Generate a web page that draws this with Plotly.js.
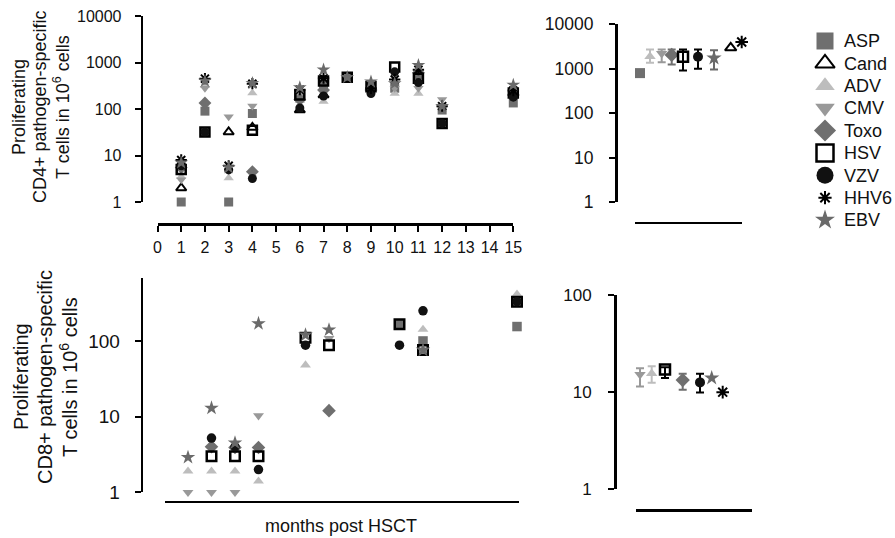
<!DOCTYPE html>
<html>
<head>
<meta charset="utf-8">
<script src="https://cdn.plot.ly/plotly-3.0.1.min.js"></script>
<style>html,body{margin:0;padding:0;background:#fff;}#chart{width:895px;height:538px;}</style>
</head>
<body>
<div id="chart"></div>
<script>
// ---------- DATA ----------
const seriesNames = ['ASP','Cand','ADV','CMV','Toxo','HSV','VZV','HHV6','EBV'];

// CD4+ time course (months post HSCT)
const monthsCD4 = [1, 2, 3, 4, 6, 7, 8, 9, 10, 11, 12, 15];
const cd4ASP  = [1, 90, 1, 80, 180, 330, 480, 330, 280, 550, 95, 135];
const cd4Cand = [2, null, 32, 40, 95, 200, null, null, null, null, null, null];
const cd4ADV  = [3.5, 320, 3.3, 220, 150, 145, null, null, 215, 215, null, null];
const cd4CMV  = [3, 280, 68, 116, 200, 300, null, 280, 280, 280, 160, 240];
const cd4Toxo = [5.5, 135, null, 4.5, 160, 255, null, 255, null, 600, null, 200];
const cd4HSV  = [5, 32, null, 35, 200, 400, 480, 300, 800, 460, 49, 220];
const cd4VZV  = [6, 32, 4.9, 3.2, 105, 190, null, 215, 630, 370, 49, 180];
const cd4HHV6 = [8, 450, 6, 350, 260, 460, null, 280, 430, 700, 115, 250];
const cd4EBV  = [7, 400, 5.5, 360, 290, 700, 480, 385, 355, 870, 115, 330];

// CD8+ time course
const monthsCD8 = [1, 2, 3, 4, 6, 7, 10, 11, 15];
const cd8ASP  = [null, null, null, null, null, null, 166, 100, 155];
const cd8Cand = [null, null, null, null, null, null, null, null, null];
const cd8ADV  = [1.9, 1.9, 1.9, 1.4, 48, null, null, 142, 415];
const cd8CMV  = [1, 1, 1, 10.3, null, 108, null, null, null];
const cd8Toxo = [null, 4, 3.9, 3.9, null, 12, null, null, null];
const cd8HSV  = [null, 3, 3, 3, 110, 88, 166, 76, 330];
const cd8VZV  = [null, 5.2, 4, 2, 88, null, 88, 250, 330];
const cd8HHV6 = [null, null, null, null, null, null, null, null, null];
const cd8EBV  = [2.9, 13, 4.5, 170, 120, 140, null, 76, null];

// CD4+ summary (mean with range)
const sum4Names = ['ASP','ADV','CMV','Toxo','HSV','VZV','EBV','Cand','HHV6'];
const sum4Pos   = [0.5, 1.5, 2.67, 3.67, 4.8, 6.3, 7.9, 9.57, 10.67];
const sum4Mean  = [800, 1900, 2200, 2050, 1860, 1860, 1740, 2960, 4000];
const sum4High  = [null, 2700, 2700, 2700, 2700, 2700, 2600, null, null];
const sum4Low   = [null, 1370, 1400, 1250, 920, 1000, 970, null, null];

// CD8+ summary
const sum8Names = ['CMV','ADV','HSV','Toxo','VZV','EBV','HHV6'];
const sum8Pos   = [0.4, 1.57, 2.9, 4.67, 6.4, 7.57, 8.67];
const sum8Mean  = [15.2, 15.6, 17.1, 13.3, 12.6, 14, 10];
const sum8High  = [17.6, 18.5, 18, 15.5, 15.5, null, null];
const sum8Low   = [11.4, 12.5, 14, 10.6, 9.9, null, null];

const logTicks = [1, 10, 100, 1000, 10000];
const logTickText = ['1', '10', '100', '1000', '10000'];
const monthTicks = [0,1,2,3,4,5,6,7,8,9,10,11,12,13,14,15];

const titleCD4 = ['Proliferating', 'CD4+ pathogen-specific', 'T cells in 10<sup>6</sup> cells'];
const titleCD8 = ['Proliferating', 'CD8+ pathogen-specific', 'T cells in 10<sup>6</sup> cells'];
const titleX = 'months post HSCT';

// ---------- STYLE ----------
const styles = {
  ASP:  {symbol:'square',            color:'#6f6f6f', lw:0,   scale:1.0},
  Cand: {symbol:'triangle-up-open',  color:'#000000', lw:2,   scale:1.0},
  ADV:  {symbol:'triangle-up',       color:'#bdbdbd', lw:0,   scale:1.0},
  CMV:  {symbol:'triangle-down',     color:'#999999', lw:0,   scale:1.0},
  Toxo: {symbol:'diamond',           color:'#6f6f6f', lw:0,   scale:1.1},
  HSV:  {symbol:'square-open',       color:'#000000', lw:2.5, scale:1.0},
  VZV:  {symbol:'circle',            color:'#111111', lw:0,   scale:1.0},
  HHV6: {symbol:'asterisk-open',     color:'#000000', lw:2,   scale:1.05},
  EBV:  {symbol:'star',              color:'#6a6a6a', lw:0,   scale:1.15}
};
const cd4Map = {ASP:cd4ASP, Cand:cd4Cand, ADV:cd4ADV, CMV:cd4CMV, Toxo:cd4Toxo, HSV:cd4HSV, VZV:cd4VZV, HHV6:cd4HHV6, EBV:cd4EBV};
const cd8Map = {ASP:cd8ASP, Cand:cd8Cand, ADV:cd8ADV, CMV:cd8CMV, Toxo:cd8Toxo, HSV:cd8HSV, VZV:cd8VZV, HHV6:cd8HHV6, EBV:cd8EBV};

function marker(name, size){
  const s = styles[name];
  return {symbol:s.symbol, size:size*s.scale, color:s.color,
          line:{color:s.color, width:s.lw}};
}
function errColor(n){ const c = styles[n].color; return (c==='#000000'||c==='#111111') ? '#000' : c; }

const traces = [];
seriesNames.forEach(n => {
  traces.push({type:'scatter', mode:'markers', x:monthsCD4, y:cd4Map[n],
    xaxis:'x', yaxis:'y', name:n, showlegend:false, cliponaxis:false,
    marker:marker(n, 9)});
});
seriesNames.forEach(n => {
  traces.push({type:'scatter', mode:'markers', x:monthsCD8, y:cd8Map[n],
    xaxis:'x3', yaxis:'y3', name:n, showlegend:false, cliponaxis:false,
    marker:marker(n, 9.5)});
});
sum4Names.forEach((n,i) => {
  const hasErr = sum4High[i] !== null;
  traces.push({type:'scatter', mode:'markers', x:[sum4Pos[i]], y:[sum4Mean[i]],
    xaxis:'x2', yaxis:'y2', name:n, showlegend:false, cliponaxis:false,
    marker:marker(n, 10),
    error_y: hasErr ? {type:'data', symmetric:false, array:[sum4High[i]-sum4Mean[i]],
      arrayminus:[sum4Mean[i]-sum4Low[i]], color:errColor(n), thickness:2, width:4} : {visible:false}});
});
sum8Names.forEach((n,i) => {
  const hasErr = sum8High[i] !== null;
  traces.push({type:'scatter', mode:'markers', x:[sum8Pos[i]], y:[sum8Mean[i]],
    xaxis:'x4', yaxis:'y4', name:n, showlegend:false, cliponaxis:false,
    marker:marker(n, 10),
    error_y: hasErr ? {type:'data', symmetric:false, array:[sum8High[i]-sum8Mean[i]],
      arrayminus:[sum8Mean[i]-sum8Low[i]], color:errColor(n), thickness:2, width:4} : {visible:false}});
});
// legend key: one symbol per series on a category axis whose tick labels are the series names
seriesNames.forEach(n => {
  const sz = n==='HHV6' ? 11 : (n==='EBV' ? 15 : 17);
  const m = marker(n, sz); m.size = sz;
  traces.push({type:'scatter', mode:'markers', x:[0], y:[n],
    xaxis:'x5', yaxis:'y5', name:n, showlegend:false, cliponaxis:false, marker:m});
});

// ---------- LAYOUT ----------
const W = 895, H = 538;
const px = v => v / W;
const py = v => 1 - v / H;
const FONT = 'Liberation Sans, Arial, sans-serif';
const axisBase = {showgrid:false, zeroline:false, showline:true, linecolor:'#000', linewidth:2.5,
  ticks:'outside', ticklen:6, tickwidth:2, tickcolor:'#000', fixedrange:true,
  tickfont:{family:FONT, size:16, color:'#111'}};
const tf = s => ({family:FONT, size:s, color:'#111'});

const annotations = [];
const t4x = [19, 40, 61];
titleCD4.forEach((t,i) => annotations.push({text:t, xref:'paper', yref:'paper', x:px(t4x[i]), y:py(107),
  textangle:-90, showarrow:false, font:tf(18), xanchor:'center', yanchor:'middle'}));
const t8x = [21, 45, 68];
titleCD8.forEach((t,i) => annotations.push({text:t, xref:'paper', yref:'paper', x:px(t8x[i]), y:py(377),
  textangle:-90, showarrow:false, font:tf(20), xanchor:'center', yanchor:'middle'}));
annotations.push({text:titleX, xref:'paper', yref:'paper', x:px(340.5), y:py(526), showarrow:false,
  font:tf(18), xanchor:'center', yanchor:'middle'});

const layout = {
  width:W, height:H, margin:{l:0, r:0, t:0, b:0},
  paper_bgcolor:'#fff', plot_bgcolor:'rgba(0,0,0,0)',
  font:{family:FONT, size:16, color:'#111'},
  showlegend:false,
  xaxis: Object.assign({}, axisBase, {domain:[px(157.5), px(513.3)], range:[0,15], anchor:'free', position:py(224),
    tickvals:monthTicks, ticktext:monthTicks.map(String), ticklabelstandoff:2}),
  yaxis: Object.assign({}, axisBase, {type:'log', domain:[py(202), py(16)], range:[0,4], anchor:'free', position:px(141.7),
    tickvals:logTicks, ticktext:logTickText, ticklabelstandoff:10}),
  xaxis2: Object.assign({}, axisBase, {domain:[px(635), px(742)], range:[0,10.7], anchor:'free', position:py(222.7),
    ticks:'', showticklabels:false}),
  yaxis2: Object.assign({}, axisBase, {type:'log', domain:[py(202.3), py(24.3)], range:[0,4], anchor:'free', position:px(616),
    tickvals:logTicks, ticktext:logTickText, ticklabelstandoff:12, tickfont:tf(17.5)}),
  xaxis3: Object.assign({}, axisBase, {domain:[px(164.5), px(519)], range:[0,15.085], anchor:'free', position:py(501.7),
    ticks:'', showticklabels:false}),
  yaxis3: Object.assign({}, axisBase, {type:'log', domain:[py(492.3), py(278.3)], range:[0,2.828], anchor:'free', position:px(141.7),
    tickvals:[1,10,100], ticktext:['1','10','100'], ticklabelstandoff:11, tickfont:tf(19)}),
  xaxis4: Object.assign({}, axisBase, {domain:[px(636), px(751.7)], range:[0,11.57], anchor:'free', position:py(510),
    ticks:'', showticklabels:false}),
  yaxis4: Object.assign({}, axisBase, {type:'log', domain:[py(489.3), py(295)], range:[0,2], anchor:'free', position:px(615),
    tickvals:[1,10,100], ticktext:['1','10','100'], ticklabelstandoff:13, tickfont:tf(17)}),
  // legend key axes
  xaxis5: {domain:[px(815), px(835)], range:[-1,1], anchor:'free', position:0, visible:false, fixedrange:true},
  yaxis5: {type:'category', categoryorder:'array', categoryarray:seriesNames, range:[8.5,-0.5],
    domain:[py(231.2), py(29.8)], anchor:'free', position:px(835), side:'right',
    showline:false, showgrid:false, zeroline:false, ticks:'', ticklabelstandoff:8,
    tickfont:tf(18), fixedrange:true},
  annotations:annotations
};

Plotly.newPlot('chart', traces, layout, {displayModeBar:false, staticPlot:true});
</script>
</body>
</html>
